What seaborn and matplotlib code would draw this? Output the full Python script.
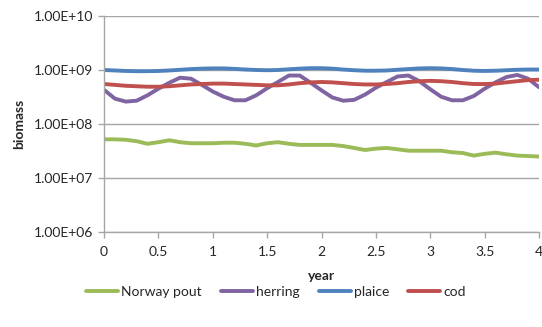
import numpy as np
import pandas as pd
import matplotlib
matplotlib.use("Agg")
import matplotlib.pyplot as plt
from matplotlib.ticker import FuncFormatter, FixedLocator, NullLocator
import seaborn as sns

# time axis (years)
years = [round(0.1 * i, 1) for i in range(41)]

norway_pout = [5.2e7, 5.2e7, 5.1e7, 4.8e7, 4.3e7, 4.6e7, 5.0e7, 4.6e7, 4.4e7, 4.4e7,
               4.4e7, 4.5e7, 4.5e7, 4.3e7, 4.0e7, 4.4e7, 4.6e7, 4.3e7, 4.1e7, 4.1e7,
               4.1e7, 4.1e7, 3.9e7, 3.6e7, 3.3e7, 3.5e7, 3.6e7, 3.4e7, 3.2e7, 3.2e7,
               3.2e7, 3.2e7, 3.0e7, 2.9e7, 2.6e7, 2.8e7, 2.95e7, 2.75e7, 2.6e7, 2.55e7,
               2.5e7]

herring = [4.3e8, 2.95e8, 2.6e8, 2.7e8, 3.4e8, 4.5e8, 5.8e8, 7.2e8, 6.9e8, 5.3e8,
           4.0e8, 3.2e8, 2.75e8, 2.75e8, 3.4e8, 4.6e8, 6.0e8, 7.9e8, 7.9e8, 5.8e8,
           4.2e8, 3.1e8, 2.7e8, 2.8e8, 3.5e8, 4.7e8, 6.0e8, 7.6e8, 7.9e8, 6.2e8,
           4.4e8, 3.2e8, 2.75e8, 2.75e8, 3.3e8, 4.5e8, 5.9e8, 7.4e8, 8.1e8, 6.9e8,
           4.8e8]

plaice = [1.00e9, 0.98e9, 0.96e9, 0.95e9, 0.95e9, 0.96e9, 0.98e9, 1.01e9, 1.04e9, 1.06e9,
          1.07e9, 1.07e9, 1.05e9, 1.02e9, 1.00e9, 0.99e9, 1.00e9, 1.03e9, 1.06e9, 1.08e9,
          1.08e9, 1.06e9, 1.02e9, 0.99e9, 0.97e9, 0.97e9, 0.98e9, 1.01e9, 1.04e9, 1.07e9,
          1.08e9, 1.07e9, 1.04e9, 1.00e9, 0.97e9, 0.96e9, 0.97e9, 0.99e9, 1.01e9, 1.02e9,
          1.02e9]

cod = [5.5e8, 5.3e8, 5.1e8, 5.0e8, 4.9e8, 4.9e8, 5.0e8, 5.2e8, 5.4e8, 5.5e8,
       5.6e8, 5.6e8, 5.5e8, 5.4e8, 5.3e8, 5.2e8, 5.2e8, 5.4e8, 5.7e8, 5.9e8,
       6.0e8, 5.9e8, 5.7e8, 5.5e8, 5.4e8, 5.4e8, 5.5e8, 5.7e8, 6.0e8, 6.2e8,
       6.3e8, 6.2e8, 6.0e8, 5.7e8, 5.5e8, 5.5e8, 5.6e8, 5.9e8, 6.2e8, 6.5e8,
       6.6e8]

species = ["Norway pout", "herring", "plaice", "cod"]
colors = ["#9bbb59", "#8064a2", "#4f81bd", "#c0504d"]
x_ticks = [0, 0.5, 1, 1.5, 2, 2.5, 3, 3.5, 4]
y_ticks = [1e6, 1e7, 1e8, 1e9, 1e10]

df = pd.DataFrame({"year": years, "Norway pout": norway_pout, "herring": herring,
                   "plaice": plaice, "cod": cod})
long = df.melt(id_vars="year", var_name="species", value_name="biomass")

sns.set_theme(style="white")
plt.rcParams["font.family"] = ["Lato", "DejaVu Sans"]

fig = plt.figure(figsize=(5.42, 3.27), dpi=100)
ax = fig.add_axes([104 / 542, 1 - 232 / 327, 435 / 542, 216 / 327])

sns.lineplot(data=long, x="year", y="biomass", hue="species", hue_order=species,
             palette=colors, linewidth=2.8, ax=ax, legend=True)
for line in ax.get_lines():
    line.set_solid_joinstyle("round")
    line.set_solid_capstyle("round")

ax.set_yscale("log")
ax.set_ylim(1e6, 1e10)
ax.set_xlim(0, 4)
ax.yaxis.set_major_locator(FixedLocator(y_ticks))
ax.yaxis.set_minor_locator(NullLocator())
ax.yaxis.set_major_formatter(FuncFormatter(lambda v, p: f"{v:.2E}"))
ax.xaxis.set_major_locator(FixedLocator(x_ticks))
ax.xaxis.set_major_formatter(FuncFormatter(lambda v, p: f"{v:g}"))

grid_c = "#a6a6a6"
ax.grid(axis="y", color=grid_c, linewidth=1.0)
ax.grid(axis="x", visible=False)
ax.set_axisbelow(True)
for s in ["top", "right"]:
    ax.spines[s].set_visible(False)
for s in ["left", "bottom"]:
    ax.spines[s].set_color(grid_c)
    ax.spines[s].set_linewidth(1.0)

ax.tick_params(axis="both", which="major", direction="out", length=4, width=1.0,
               color=grid_c, labelsize=10, labelcolor="#262626", pad=4)
ax.tick_params(axis="y", left=True)
ax.tick_params(axis="x", bottom=True, pad=6)

ax.set_xlabel("year", fontsize=10, fontweight="bold", color="#262626", labelpad=9)
ax.set_ylabel("biomass", fontsize=10, fontweight="bold", color="#262626", labelpad=6)

handles, labels = ax.get_legend_handles_labels()
ax.legend(handles, labels, loc="center", bbox_to_anchor=(276 / 542, 1 - 292 / 327),
          bbox_transform=fig.transFigure, ncol=4, frameon=False, fontsize=10,
          handlelength=2.3, handletextpad=0.2, columnspacing=1.4)

fig.savefig("out.png", dpi=100)
